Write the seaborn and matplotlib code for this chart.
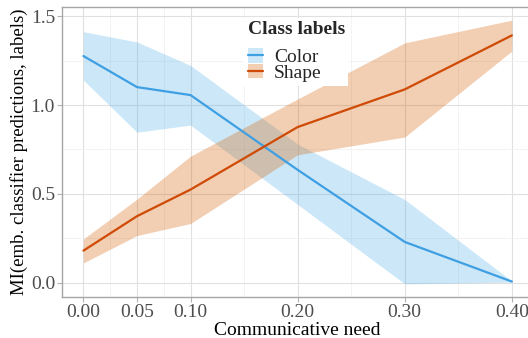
import matplotlib
matplotlib.use("Agg")
import matplotlib.pyplot as plt
import seaborn as sns
import pandas as pd
import numpy as np
from matplotlib.patches import Patch, Rectangle
from matplotlib.lines import Line2D
from matplotlib.legend_handler import HandlerTuple

# ---- data ----
need = [0.00, 0.05, 0.10, 0.20, 0.30, 0.40]
color_mean = [1.276, 1.101, 1.056, 0.635, 0.229, 0.006]
color_lo = [1.140, 0.847, 0.887, 0.440, -0.007, 0.003]
color_hi = [1.413, 1.355, 1.223, 0.780, 0.468, 0.009]
shape_mean = [0.180, 0.374, 0.524, 0.876, 1.088, 1.392]
shape_lo = [0.111, 0.265, 0.333, 0.720, 0.820, 1.304]
shape_hi = [0.246, 0.470, 0.712, 1.034, 1.350, 1.478]
labels = ["Color", "Shape"]
x_ticks = [0.00, 0.05, 0.10, 0.20, 0.30, 0.40]
x_ticklabels = ["0.00", "0.05", "0.10", "0.20", "0.30", "0.40"]
y_ticks = [0.0, 0.5, 1.0, 1.5]
y_ticklabels = ["0.0", "0.5", "1.0", "1.5"]

line_cols = {"Color": "#3F9FE3", "Shape": "#CF4A05"}
fill_cols = {"Color": "#56B4E9", "Shape": "#D55E00"}

df = pd.DataFrame({
    "need": need * 2,
    "mi": color_mean + shape_mean,
    "lo": color_lo + shape_lo,
    "hi": color_hi + shape_hi,
    "label": ["Color"] * len(need) + ["Shape"] * len(need),
})

sns.set_theme(style="white")
plt.rcParams["font.family"] = ["Liberation Serif", "DejaVu Serif"]

W, H = 528, 338
fig = plt.figure(figsize=(W / 100, H / 100), dpi=100)
ax = fig.add_axes([62 / W, 1 - 297 / H, 1.0 - 62 / W + 0.01, 290 / H])

# grid
minor_x = [0.025, 0.075, 0.15, 0.25, 0.35]
minor_y = [0.25, 0.75, 1.25]
ax.set_xticks(minor_x, minor=True)
ax.set_yticks(minor_y, minor=True)
ax.grid(True, which="major", color="#E0E0E0", linewidth=0.8)
ax.grid(True, which="minor", color="#EFEFEF", linewidth=0.5)
ax.set_axisbelow(True)

for lab in labels:
    sub = df[df["label"] == lab]
    ax.fill_between(sub["need"], sub["lo"], sub["hi"], color=fill_cols[lab],
                    alpha=0.3, linewidth=0, zorder=2)

sns.lineplot(data=df, x="need", y="mi", hue="label", palette=line_cols,
             linewidth=1.6, ax=ax, legend=False, zorder=3)

ax.set_xlim(-0.02, 0.42)
ax.set_ylim(-0.081, 1.552)
ax.set_xticks(x_ticks)
ax.set_xticklabels(x_ticklabels)
ax.set_yticks(y_ticks)
ax.set_yticklabels(y_ticklabels)
ax.tick_params(axis="both", which="major", length=3.5, width=0.8, color="#B3B3B3",
               labelsize=14, labelcolor="#4D4D4D", pad=1.5, bottom=True, left=True)
ax.tick_params(axis="both", which="minor", length=0)

for side in ["top", "left", "bottom", "right"]:
    ax.spines[side].set_color("#A6A6A6")
    ax.spines[side].set_linewidth(1.0)
ax.spines["right"].set_visible(False)

ax.set_xlabel("Communicative need", fontsize=14, color="black", labelpad=1)
ax.set_ylabel("MI(emb. classifier predictions, labels)", fontsize=13.5, color="black", labelpad=2)

# legend background box (white, covers grid and ribbons)
fig.patches.append(Rectangle((243 / W, 1 - 86 / H), 105 / W, 68 / H,
                             transform=fig.transFigure, facecolor="white",
                             edgecolor="none", zorder=4))
fig.text(248 / W, 1 - 30 / H, "Class labels", fontsize=14, fontweight="bold",
         ha="left", va="center", zorder=6)

handles = []
for lab in labels:
    handles.append((Patch(facecolor=fill_cols[lab], alpha=0.3, edgecolor="none"),
                    Line2D([0], [0], color=line_cols[lab], linewidth=1.6)))
leg = fig.legend(handles, labels,
                 handler_map={tuple: HandlerTuple(ndivide=1, pad=0)},
                 loc="upper left", bbox_to_anchor=(248 / W, 1 - 48 / H),
                 bbox_transform=fig.transFigure, borderaxespad=0, borderpad=0,
                 frameon=False, fontsize=14,
                 handlelength=0.78, handleheight=0.78, handletextpad=0.55,
                 labelspacing=-0.12)
leg.set_zorder(6)

fig.savefig("out.png", dpi=100)
